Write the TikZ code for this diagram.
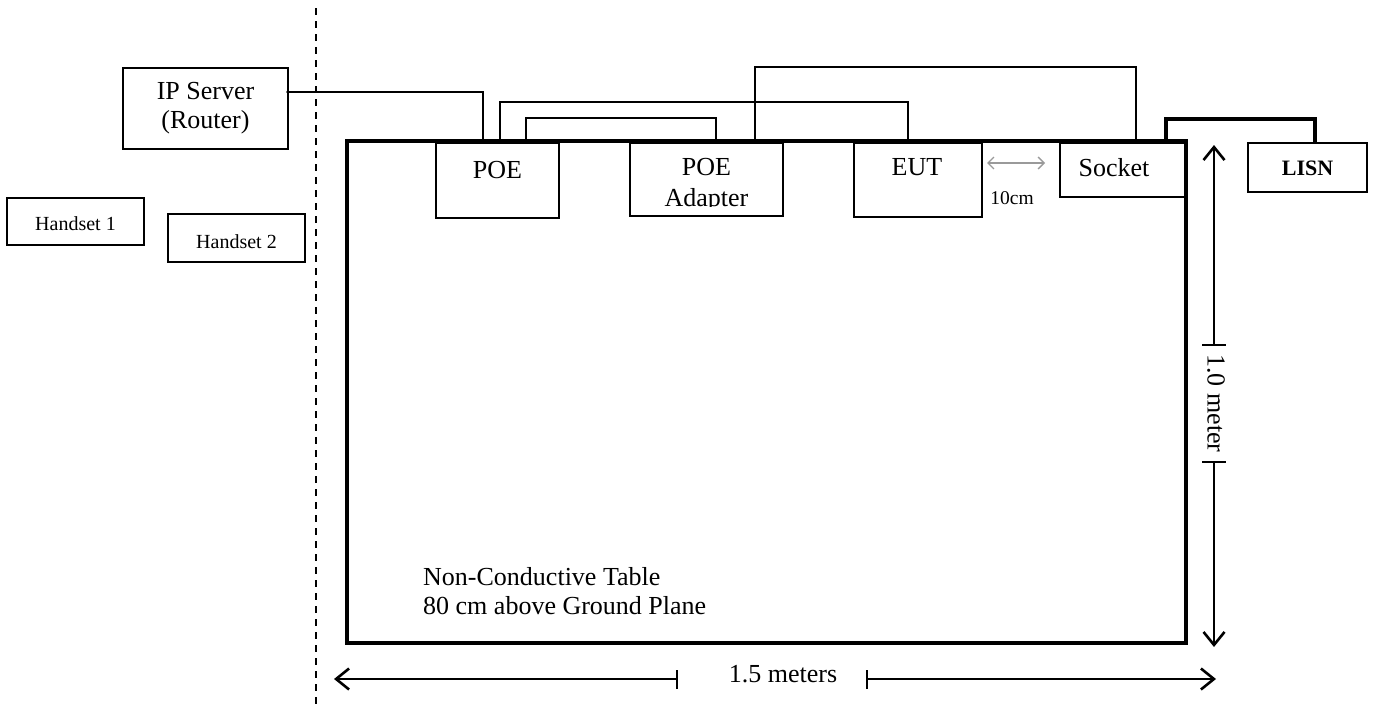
\documentclass[tikz,border=0pt]{standalone}
\usepackage{fontspec}
\setmainfont{Liberation Serif}
\usetikzlibrary{arrows.meta,calc}
\definecolor{lightgr}{HTML}{9A9A9A}
\begin{document}
\begin{tikzpicture}[x=1pt,y=-1pt,
  box/.style={draw,line width=1.3pt,inner sep=0pt,outer sep=0pt},
  wire/.style={line width=1.3pt},
  pwire/.style={line width=3.6pt},
  txt/.style={inner sep=0pt,font=\fontsize{26}{29}\selectfont},
  stxt/.style={inner sep=0pt,font=\fontsize{20}{24}\selectfont},
  dimline/.style={line width=1.5pt},
  dimhead/.style={-{Straight Barb[length=13pt,width=21pt,line width=2.6pt]}},
]
\useasboundingbox (0,0) rectangle (1378,707);

% separator
\draw[line width=1.5pt,dash pattern=on 7pt off 6pt] (316,8) -- (316,707);

% table
\node[draw,line width=4pt,minimum width=839pt,minimum height=502pt,inner sep=0pt,outer sep=0pt] (table) at (766.5,392) {};
\node[txt,align=left,anchor=west] (tabletext) at (423,591) {Non-Conductive Table\\80 cm above Ground Plane};

% left side boxes
\node[box,minimum width=165pt,minimum height=81pt] (ip) at (205.5,108.5) {};
\node[txt,align=center] (iptext) at (205.5,108) {IP Server\\(Router)};
\node[box,minimum width=137pt,minimum height=47pt] (h1) at (75.5,221.5) {};
\node[stxt] (h1text) at (75.5,224) {Handset 1};
\node[box,minimum width=137pt,minimum height=48pt] (h2) at (236.5,238) {};
\node[stxt] (h2text) at (236.5,242) {Handset 2};

% boxes on table
\node[box,minimum width=123pt,minimum height=75pt] (poe) at (497.5,180.5) {};
\node[txt] (poetext) at (497.5,170) {POE};
\node[box,minimum width=153pt,minimum height=73pt] (adp) at (706.5,179.5) {};
\begin{scope}
  \clip (630,143) rectangle (783,206);
  \node[txt,anchor=base] (adptext) at (706.5,206.5) {Adapter};
\end{scope}
\node[txt] (adptext2) at (706.5,167) {POE};
\node[box,minimum width=128pt,minimum height=74pt] (eut) at (918,180) {};
\node[txt] (euttext) at (917,167) {EUT};
\node[box,minimum width=126pt,minimum height=54pt] (sock) at (1123,170) {};
\node[txt] (socktext) at (1114,168) {Socket};
\node[box,minimum width=119pt,minimum height=49pt] (lisn) at (1307.5,167.5) {};
\node[inner sep=0pt,font=\fontsize{22}{26}\selectfont\bfseries] (lisntext) at (1307.5,168) {LISN};

% connection points
\coordinate (ipout) at (ip.east |- 0,92);
\coordinate (poeA) at ([xshift=47pt]poe.north west);
\coordinate (poeB) at ([xshift=64pt]poe.north west);
\coordinate (poeC) at ([xshift=90pt]poe.north west);
\coordinate (adpA) at ([xshift=86pt]adp.north west);
\coordinate (adpB) at ([xshift=125pt]adp.north west);
\coordinate (eutA) at ([xshift=54pt]eut.north west);
\coordinate (sockA) at ([xshift=76pt]sock.north west);
\coordinate (sockB) at ([xshift=106pt]sock.north west);
\coordinate (lisnA) at ([xshift=67pt]lisn.north west);

% wires
\fill (ipout) circle (1.8pt);
\draw[wire] (ipout) -| (poeA);
\draw[wire] (poeB) |- (eutA |- 0,102) -- (eutA);
\draw[wire] (poeC) |- (adpA |- 0,118) -- (adpA);
\draw[wire] (adpB) |- (sockA |- 0,67) -- (sockA);
\draw[pwire] (sockB) |- (lisnA |- 0,119) -- (lisnA);

% 10 cm gap
\coordinate (gapL) at (987,163);
\coordinate (gapR) at (1045,163);
\draw[lightgr,line width=1.3pt,{Straight Barb[length=6pt,width=12pt]}-{Straight Barb[length=6pt,width=12pt]}] (gapL) -- (gapR);
\node[inner sep=0pt,font=\fontsize{19.5}{23}\selectfont] (gaptext) at (1012,198) {10cm};

% vertical dimension
\coordinate (vtop) at (1214,145);
\coordinate (vbot) at (1214,647);
\coordinate (vt1) at (1214,345);
\coordinate (vt2) at (1214,462);
\draw[dimline,dimhead] (vt1) -- (vtop);
\draw[dimline,dimhead] (vt2) -- (vbot);
\draw[dimline] ([xshift=-12pt]vt1) -- ([xshift=12pt]vt1);
\draw[dimline] ([xshift=-12pt]vt2) -- ([xshift=12pt]vt2);
\node[txt,rotate=-90] (vtext) at (1216,403.5) {1.0 meter};

% horizontal dimension
\coordinate (hl) at (334,679);
\coordinate (ht1) at (677,679);
\coordinate (ht2) at (867,679);
\coordinate (hr) at (1216,679);
\draw[dimline,dimhead] (ht1) -- (hl);
\draw[dimline,dimhead] (ht2) -- (hr);
\draw[dimline] ([yshift=-10pt]ht1) -- ([yshift=9pt]ht1);
\draw[dimline] ([yshift=-10pt]ht2) -- ([yshift=9pt]ht2);
\node[txt] (htext) at (783,674) {1.5 meters};
\end{tikzpicture}
\end{document}
